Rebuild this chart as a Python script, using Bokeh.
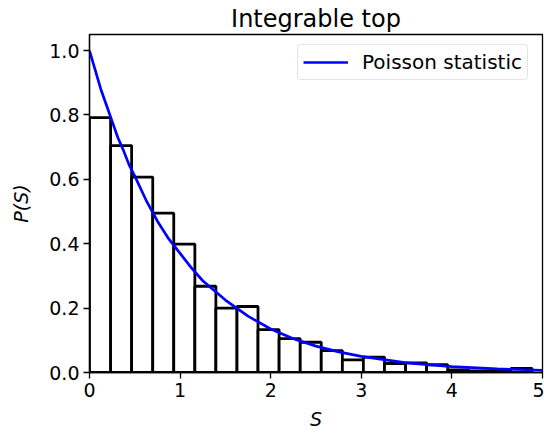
from bokeh.plotting import figure
from bokeh.models import Range1d, FixedTicker, PrintfTickFormatter, Legend, LegendItem
from bokeh.embed import file_html
from bokeh.resources import INLINE

# ---- data ----
bin_edges = [0.0, 0.233, 0.465, 0.698, 0.930, 1.163, 1.395, 1.628, 1.860, 2.093,
             2.326, 2.558, 2.791, 3.023, 3.256, 3.489, 3.721, 3.954, 4.186, 4.419,
             4.651, 4.884]
bin_heights = [0.792, 0.705, 0.607, 0.495, 0.399, 0.268, 0.200, 0.205, 0.133, 0.105,
               0.094, 0.068, 0.039, 0.048, 0.028, 0.030, 0.024, 0.008, 0.005, 0.004,
               0.013]
curve_s = [0.0, 0.0625, 0.125, 0.1875, 0.25, 0.3125, 0.375, 0.4375, 0.5, 0.625, 0.75,
           0.875, 1.0, 1.125, 1.25, 1.5, 1.75, 2.0, 2.25, 2.5, 2.75, 3.0, 3.5, 4.0,
           4.5, 5.0]
curve_p = [1.0, 0.94, 0.88, 0.83, 0.78, 0.73, 0.69, 0.645, 0.61, 0.535, 0.47,
           0.415, 0.37, 0.325, 0.285, 0.225, 0.175, 0.135, 0.105, 0.082, 0.064, 0.05,
           0.03, 0.018, 0.011, 0.007]
x_ticks = [0, 1, 2, 3, 4, 5]
y_ticks = [0.0, 0.2, 0.4, 0.6, 0.8, 1.0]
title_text = "Integrable top"
legend_text = "Poisson statistic"
x_label = "S"
y_label = "P(S)"

FONT = "DejaVu Sans"
TICK_FS = "19px"

p = figure(width=544, height=435, x_range=Range1d(0, 5), y_range=Range1d(0, 1.05),
           output_backend="svg", toolbar_location=None,
           title=title_text,
           min_border_left=89, min_border_right=2, min_border_top=34, min_border_bottom=63)

p.title.align = "center"
p.title.text_font = FONT
p.title.text_font_size = "24px"
p.title.text_font_style = "normal"
p.title.text_color = "black"
p.title.standoff = 4

p.background_fill_color = "white"
p.border_fill_color = "white"
p.outline_line_color = "black"
p.outline_line_width = 1.3
p.xgrid.visible = False
p.ygrid.visible = False

p.quad(left=bin_edges[:-1], right=bin_edges[1:], top=bin_heights, bottom=0,
       fill_color="white", line_color="black", line_width=2.8)
line = p.line(curve_s, curve_p, line_color="#0000ff", line_width=2.7)

for ax in (p.xaxis[0], p.yaxis[0]):
    ax.axis_line_color = "black"
    ax.axis_line_width = 1.3
    ax.major_tick_line_color = "black"
    ax.major_tick_line_width = 1.3
    ax.major_tick_out = 6
    ax.major_tick_in = 0
    ax.minor_tick_line_color = None
    ax.major_label_text_font = FONT
    ax.major_label_text_font_size = TICK_FS
    ax.major_label_text_color = "black"
    ax.major_label_standoff = 4
    ax.axis_label_text_font = FONT
    ax.axis_label_text_font_size = TICK_FS
    ax.axis_label_text_font_style = "italic"
    ax.axis_label_text_color = "black"

p.xaxis.axis_label = x_label
p.yaxis.axis_label = y_label
p.xaxis.axis_label_standoff = 8
p.yaxis.axis_label_standoff = 14

p.xaxis.ticker = FixedTicker(ticks=x_ticks)
p.yaxis.ticker = FixedTicker(ticks=y_ticks)
p.xaxis.formatter = PrintfTickFormatter(format="%d")
p.yaxis.formatter = PrintfTickFormatter(format="%.1f")

legend = Legend(items=[LegendItem(label=legend_text, renderers=[line])],
                location=(208, 292), margin=0, padding=5, spacing=0,
                glyph_width=45, glyph_height=20, label_standoff=14,
                label_height=20,
                label_text_font=FONT, label_text_font_size="20px",
                label_text_color="black",
                border_line_color="#cccccc", border_line_width=1.3,
                border_radius=4, background_fill_color="white", background_fill_alpha=0.8)
p.add_layout(legend, "center")

open("out.html", "w").write(file_html(p, INLINE))
